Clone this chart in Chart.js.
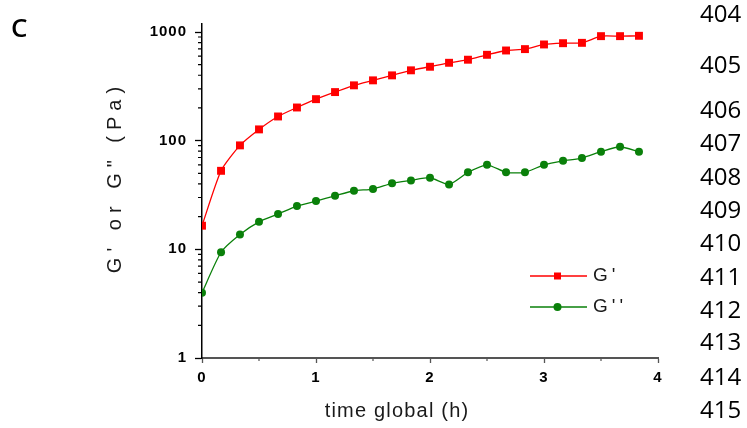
<!DOCTYPE html>
<html>
<head>
<meta charset="utf-8">
<script src="https://cdn.jsdelivr.net/npm/chart.js@4.4.1/dist/chart.umd.min.js"></script>
<style>
  html, body { margin: 0; padding: 0; background: #fff; }
  #wrap { position: relative; width: 747px; height: 428px; overflow: hidden; }
  #wrap canvas { position: absolute; left: 0; top: 0; }
  .panel { position: absolute; left: 11px; top: 14px; font: 600 26px "Open Sans", sans-serif; line-height: 26px; color: #000; }
  .ln { position: absolute; left: 700px; font: 24px "Open Sans", sans-serif; line-height: 24px; color: #000; }
</style>
</head>
<body>
<div id="wrap">
  <canvas id="chart" width="747" height="428"></canvas>
  <div class="panel">C</div>
</div>
<script>
"use strict";

// time in hours, one reading every 10 min
const TIME_H = [0, 0.167, 0.333, 0.5, 0.667, 0.833, 1, 1.167, 1.333, 1.5, 1.667, 1.833,
  2, 2.167, 2.333, 2.5, 2.667, 2.833, 3, 3.167, 3.333, 3.5, 3.667, 3.833];

// storage modulus G' (Pa)
const G_PRIME = [16.5, 52.8, 90.5, 127, 167, 202, 241, 280, 323, 359, 399, 444,
  479, 521, 556, 617, 676, 696, 768, 789, 795, 916, 916, 923];

// loss modulus G'' (Pa)
const G_DOUBLE = [3.99, 9.4, 13.7, 17.9, 21.1, 25.0, 27.8, 31.1, 34.6, 35.9, 40.5, 43.1,
  45.6, 39.6, 51.1, 60.0, 51.1, 51.1, 60.0, 65.3, 69.2, 79.1, 87.9, 79.1];

const Y_TICKS = [1, 10, 100, 1000];
const Y_MINOR = [2, 3, 4, 5, 6, 7, 8, 9, 20, 30, 40, 50, 60, 70, 80, 90,
  200, 300, 400, 500, 600, 700, 800, 900];
const X_MINOR = [0.5, 1.5, 2.5, 3.5];

const X_TITLE = "time global (h)";
const Y_TITLE = "G' or G\" (Pa)";
const LINE_NUMBERS = ["404", "405", "406", "407", "408", "409", "410", "411", "412", "413", "414", "415"];
const LINE_TOPS = [1, 52, 97, 130, 164, 197, 230, 264, 297, 329, 364, 397];

const AXIS_FONT = '"Liberation Sans", Arial, sans-serif';

const wrap = document.getElementById("wrap");
LINE_NUMBERS.forEach((t, i) => {
  const d = document.createElement("div");
  d.className = "ln";
  d.style.top = LINE_TOPS[i] + "px";
  d.textContent = t;
  wrap.appendChild(d);
});

const toPoints = (ys) => TIME_H.map((t, i) => ({ x: t, y: ys[i] }));

// minor ticks, axis titles and the line+marker legend
const decorations = {
  id: "decorations",
  beforeDraw(chart) {
    // tick labels in the original are slightly spaced out
    chart.ctx.letterSpacing = "1px";
  },
  beforeDatasetsDraw(chart) {
    const { ctx, chartArea: a, scales: { x, y } } = chart;
    ctx.letterSpacing = "0px";
    ctx.save();
    ctx.lineWidth = 1.2;
    ctx.strokeStyle = "#000";
    ctx.beginPath();
    Y_MINOR.forEach((v) => {
      const py = y.getPixelForValue(v);
      ctx.moveTo(a.left - 4, py);
      ctx.lineTo(a.left, py);
    });
    ctx.stroke();
    ctx.strokeStyle = "#555";
    ctx.beginPath();
    X_MINOR.forEach((v) => {
      const px = x.getPixelForValue(v);
      ctx.moveTo(px, a.bottom);
      ctx.lineTo(px, a.bottom + 3);
    });
    ctx.stroke();
    ctx.restore();
  },
  afterDraw(chart) {
    const { ctx } = chart;
    ctx.save();
    ctx.fillStyle = "#1a1a1a";
    ctx.textAlign = "center";
    ctx.textBaseline = "middle";

    ctx.font = "20px " + AXIS_FONT;
    ctx.letterSpacing = "1.2px";
    ctx.fillText(X_TITLE, 397, 411);

    ctx.save();
    ctx.translate(115, 177);
    ctx.rotate(-Math.PI / 2);
    ctx.letterSpacing = "6px";
    ctx.fillText(Y_TITLE, 0, 0);
    ctx.restore();

    // legend
    ctx.textAlign = "left";
    ctx.font = "19px " + AXIS_FONT;
    ctx.letterSpacing = "4px";
    chart.data.datasets.forEach((ds, i) => {
      const ly = 276 + i * 31;
      ctx.strokeStyle = ds.borderColor;
      ctx.lineWidth = ds.borderWidth;
      ctx.beginPath();
      ctx.moveTo(530, ly);
      ctx.lineTo(587, ly);
      ctx.stroke();
      ctx.fillStyle = ds.pointBackgroundColor;
      ctx.beginPath();
      if (ds.pointStyle === "rect") ctx.rect(554, ly - 3.5, 7, 7);
      else ctx.arc(557.5, ly, 4, 0, Math.PI * 2);
      ctx.fill();
      ctx.fillStyle = "#1a1a1a";
      ctx.fillText(ds.label, 593, ly);
    });
    ctx.restore();
  },
};

new Chart(document.getElementById("chart"), {
  type: "line",
  data: {
    datasets: [
      {
        label: "G'",
        data: toPoints(G_PRIME),
        borderColor: "#ff0000",
        backgroundColor: "#ff0000",
        pointBackgroundColor: "#ff0000",
        pointBorderWidth: 0,
        pointStyle: "rect",
        pointRadius: 5.6,
        borderWidth: 1.3,
        tension: 0.2,
      },
      {
        label: "G''",
        data: toPoints(G_DOUBLE),
        borderColor: "#0a800a",
        backgroundColor: "#0a800a",
        pointBackgroundColor: "#0a800a",
        pointBorderWidth: 0,
        pointStyle: "circle",
        pointRadius: 4,
        borderWidth: 1.3,
        tension: 0.2,
      },
    ],
  },
  options: {
    responsive: false,
    animation: false,
    devicePixelRatio: 1,
    layout: { padding: { top: 24, right: 89, left: 0, bottom: 0 } },
    plugins: { legend: { display: false }, tooltip: { enabled: false } },
    scales: {
      x: {
        type: "linear",
        min: 0,
        max: 4,
        afterFit: (s) => { s.height = 70; },
        border: { color: "#555", width: 2 },
        grid: { drawOnChartArea: false, tickLength: 5, tickColor: "#555", tickWidth: 1.3 },
        ticks: {
          stepSize: 1,
          color: "#000",
          padding: 6,
          font: { family: AXIS_FONT, size: 15, weight: "bold" },
        },
      },
      y: {
        type: "logarithmic",
        min: 1,
        max: 1185,
        afterBuildTicks: (s) => { s.ticks = Y_TICKS.map((v) => ({ value: v })); },
        afterFit: (s) => { s.width = 202; },
        border: { color: "#000", width: 1.5 },
        grid: { drawOnChartArea: false, tickLength: 7, tickColor: "#000", tickWidth: 1.3 },
        ticks: {
          color: "#000",
          padding: 8,
          font: { family: AXIS_FONT, size: 15, weight: "bold" },
          callback: (v) => String(v),
        },
      },
    },
  },
  plugins: [decorations],
});
</script>
</body>
</html>
